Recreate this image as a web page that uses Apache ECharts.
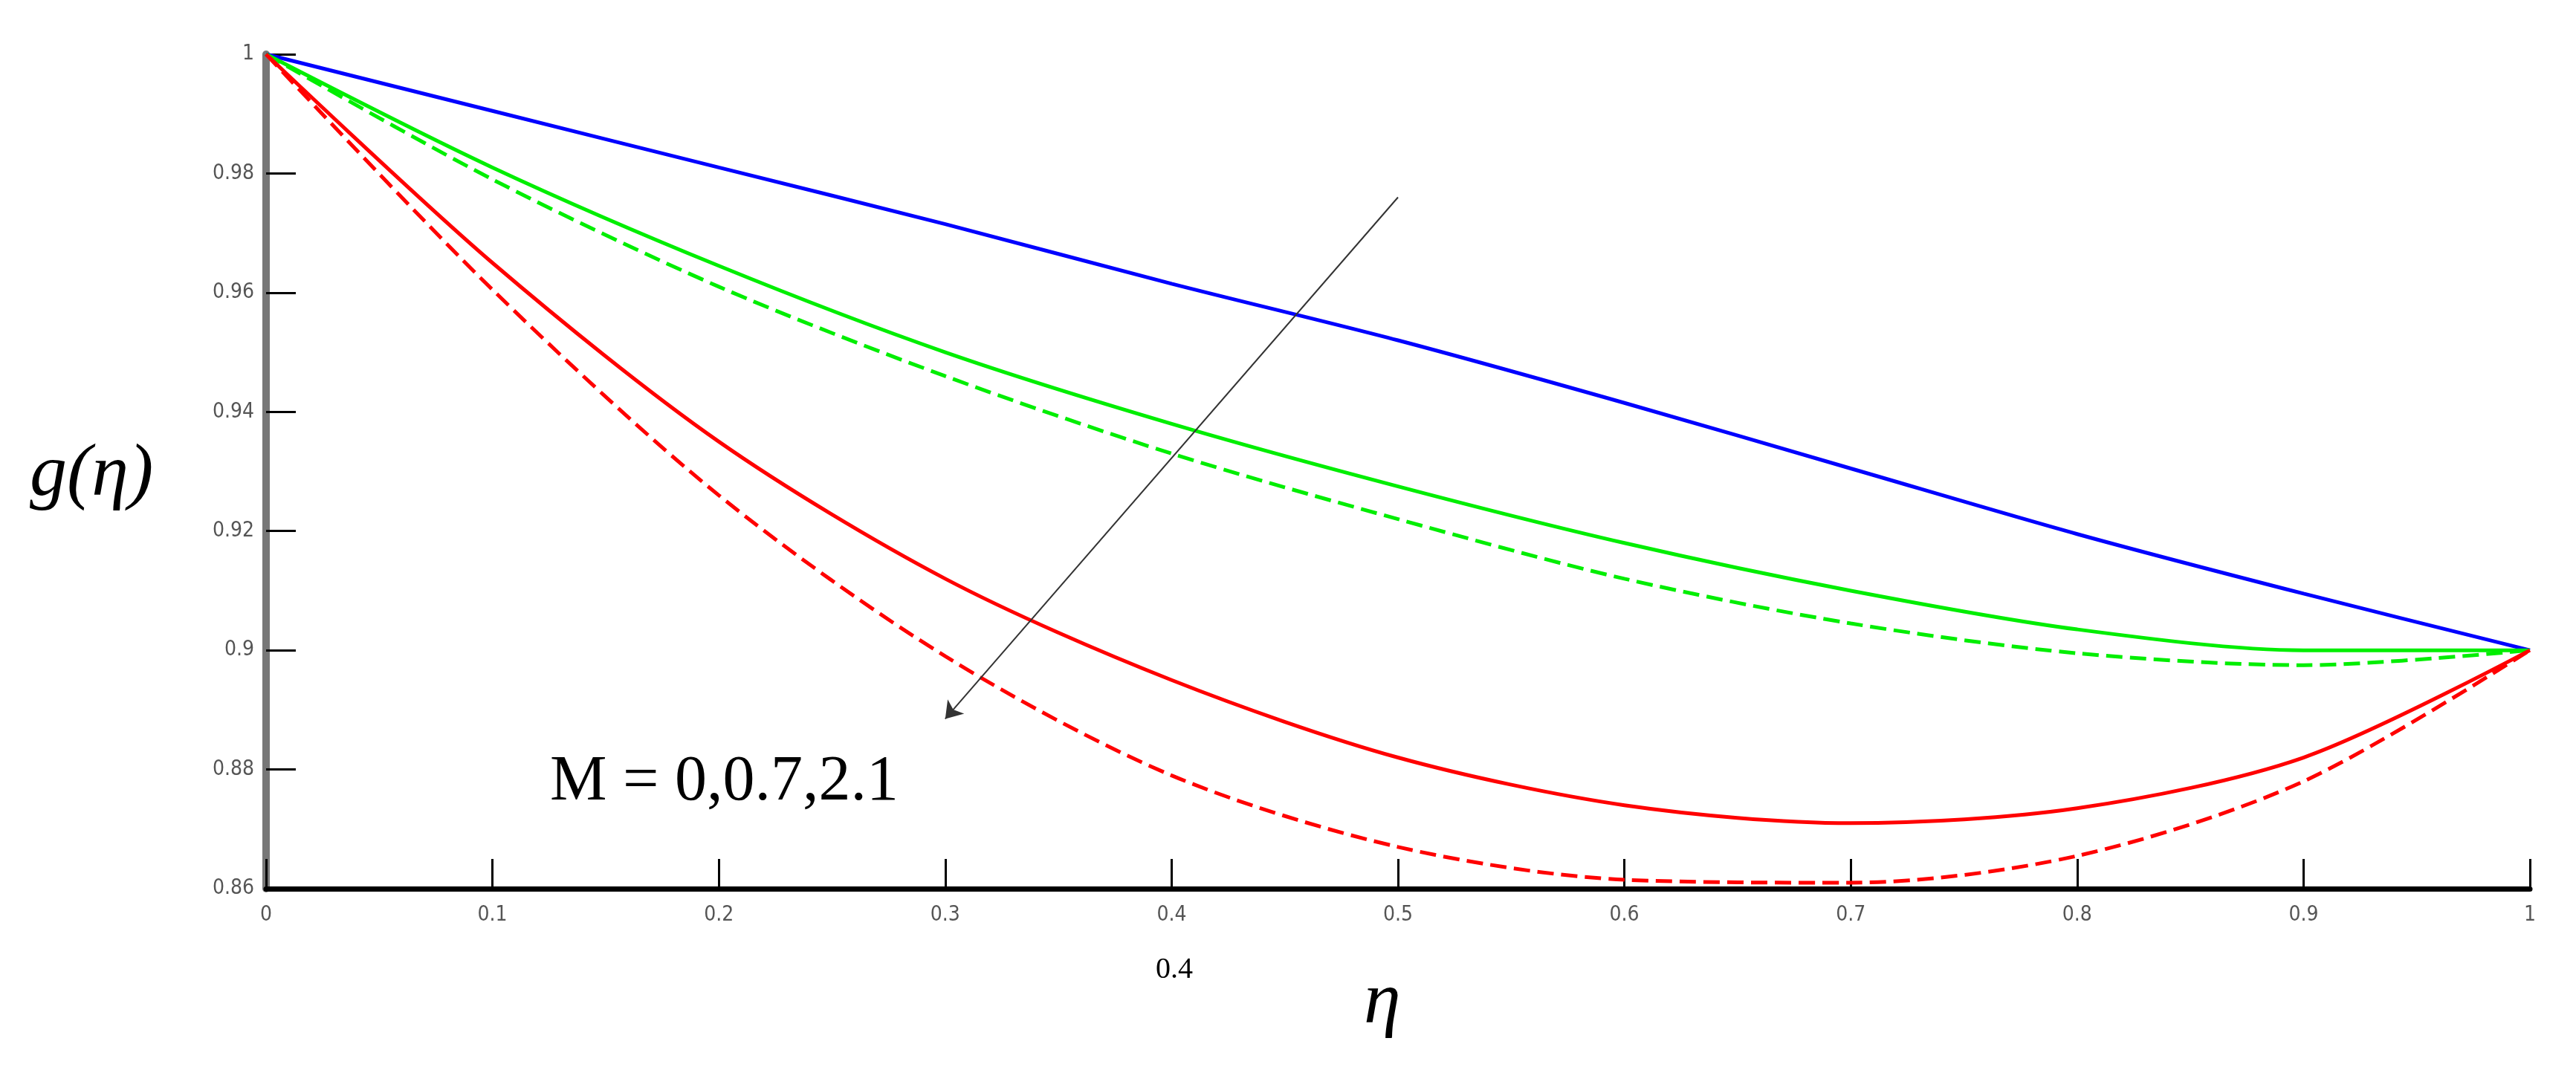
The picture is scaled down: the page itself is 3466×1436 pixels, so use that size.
<!DOCTYPE html>
<html>
<head>
<meta charset="utf-8">
<script src="https://cdn.jsdelivr.net/npm/echarts@6/dist/echarts.min.js"></script>
<style>html,body{margin:0;background:#fff}#main{width:3466px;height:1436px}</style>
</head>
<body>
<div id="main"></div>
<script>
var eta = [0, 0.1, 0.2, 0.3, 0.4, 0.5, 0.6, 0.7, 0.8, 0.9, 1];
var blueSolid = [1, 0.9905, 0.981, 0.9715, 0.9615, 0.952, 0.9415, 0.9305, 0.9195, 0.9095, 0.9];
var greenSolid = [1, 0.981, 0.9645, 0.950, 0.938, 0.9275, 0.918, 0.910, 0.9035, 0.900, 0.9];
var greenDashed = [1, 0.979, 0.961, 0.946, 0.933, 0.922, 0.912, 0.9045, 0.8995, 0.8975, 0.9];
var redSolid = [1, 0.965, 0.935, 0.912, 0.895, 0.882, 0.874, 0.871, 0.8735, 0.882, 0.9];
var redDashed = [1, 0.9605, 0.926, 0.899, 0.879, 0.867, 0.8615, 0.861, 0.8655, 0.878, 0.9];

function pairs(ys) {
  return eta.map(function (x, i) { return [x, ys[i]]; });
}

function curve(ys, color, dashed) {
  return {
    type: 'line', smooth: 0.3, showSymbol: false, silent: true,
    data: pairs(ys),
    lineStyle: { color: color, width: 5, type: dashed ? [22, 10] : 'solid' }
  };
}

var myChart = echarts.init(document.getElementById('main'));
var tickFont = { color: '#555', fontSize: 28, fontFamily: 'Liberation Sans Narrow, DejaVu Sans Condensed, sans-serif' };

myChart.setOption({
  animation: false,
  grid: { left: 358, right: 62, top: 73, bottom: 240 },
  xAxis: {
    type: 'value', min: 0, max: 1, interval: 0.1,
    axisLine: { lineStyle: { color: '#000', width: 7 } },
    axisTick: { inside: true, length: 40, lineStyle: { color: '#000', width: 3 } },
    axisLabel: Object.assign({ margin: 22, formatter: function (v) { return +v.toFixed(1) + ''; } }, tickFont),
    splitLine: { show: false }
  },
  yAxis: {
    type: 'value', min: 0.86, max: 1, interval: 0.02,
    axisLine: { show: true, lineStyle: { color: '#777', width: 10 } },
    axisTick: { inside: true, length: 40, lineStyle: { color: '#000', width: 3 } },
    axisLabel: Object.assign({ margin: 16, formatter: function (v) { return +v.toFixed(2) + ''; } }, tickFont),
    splitLine: { show: false }
  },
  series: [
    curve(blueSolid, '#0000ff', false),
    curve(greenSolid, '#00ee00', false),
    curve(greenDashed, '#00ee00', true),
    curve(redSolid, '#ff0000', false),
    curve(redDashed, '#ff0000', true),
    {
      type: 'line', data: [], silent: true,
      markLine: {
        silent: true, symbol: ['none', 'arrow'], symbolSize: 22,
        label: { show: false },
        lineStyle: { color: '#333', width: 2, type: 'solid' },
        data: [[{ coord: [0.5, 0.976] }, { coord: [0.3, 0.8885] }]]
      }
    }
  ],
  graphic: [
    { type: 'text', left: 40, top: 590, style: { text: 'g(η)', font: 'italic 100px "Liberation Serif", serif', fill: '#000' } },
    { type: 'text', left: 1835, top: 1300, style: { text: 'η', font: 'italic 100px "Liberation Serif", serif', fill: '#000' } },
    { type: 'text', left: 740, top: 1010, style: { text: 'M = 0,0.7,2.1', font: '86px "Liberation Serif", serif', fill: '#000' } },
    { type: 'text', left: 1555, top: 1285, style: { text: '0.4', font: '40px "Liberation Serif", serif', fill: '#000' } }
  ]
});
</script>
</body>
</html>
